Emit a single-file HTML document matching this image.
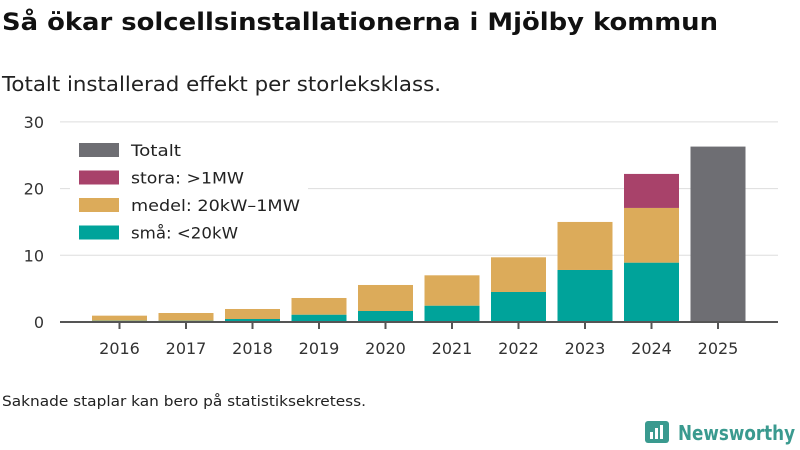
<!DOCTYPE html>
<html><head><meta charset="utf-8"><style>
body{margin:0;background:#fff;font-family:"DejaVu Sans","Liberation Sans",sans-serif;}
#w{position:relative;width:800px;height:450px;overflow:hidden}
</style></head><body><div id="w">
<svg id="c" width="800" height="450">
<text x="2" y="30" font-size="24" font-weight="bold" fill="#111" textLength="716" lengthAdjust="spacingAndGlyphs">Så ökar solcellsinstallationerna i Mjölby kommun</text>
<text x="2" y="91" font-size="20" fill="#222" textLength="439" lengthAdjust="spacingAndGlyphs">Totalt installerad effekt per storleksklass.</text>
<text x="2" y="406" font-size="14" fill="#222" textLength="364" lengthAdjust="spacingAndGlyphs">Saknade staplar kan bero på statistiksekretess.</text>
<g>
<rect x="645" y="421" width="24" height="22" rx="3" fill="#3a9a8f"/>
<rect x="650" y="432" width="3" height="7" fill="#fff"/><rect x="655" y="428" width="3" height="11" fill="#fff"/><rect x="660" y="425" width="3" height="14" fill="#fff"/>
<text x="678" y="440" font-size="20" fill="#3a9a8f" font-weight="bold" textLength="117" lengthAdjust="spacingAndGlyphs">Newsworthy</text>
</g>
<g id="plot"></g>
</svg></div>
<script>
const years=["2016","2017","2018","2019","2020","2021","2022","2023","2024","2025"];
const sma=[0.2,0.2,0.45,1.1,1.65,2.45,4.5,7.8,8.9,0];
const medel=[0.75,1.15,1.5,2.5,3.9,4.55,5.2,7.2,8.2,0];
const stora=[0,0,0,0,0,0,0,0,5.1,0];
const totalt=[0,0,0,0,0,0,0,0,0,26.3];
const yTicks=[0,10,20,30];
const ns="http://www.w3.org/2000/svg";
const g=document.getElementById('plot');
const x0=60,x1=778,yb=322,pxPer=6.67,step=66.5,first=119.5,bw=55;
const Y=v=>yb-v*pxPer, X=i=>first+i*step;
function el(t,a){const e=document.createElementNS(ns,t);for(const k in a)e.setAttribute(k,a[k]);g.appendChild(e);return e;}
yTicks.forEach(t=>{
 if(t>0){const l=el('line',{x1:x0,x2:x1,y1:Y(t),y2:Y(t),stroke:'#ddd','stroke-width':1});
 
 }
 const tx=el('text',{x:44,y:Y(t)+6,'font-size':16,fill:'#333','text-anchor':'end'});tx.textContent=t;
 
 
});
const series=[[sma,'#00a39a','small'],[medel,'#dcab5a','medel'],[stora,'#a8426a','stora'],[totalt,'#6e6e73','totalt']];
years.forEach((yr,i)=>{
 let acc=0;
 series.forEach(([arr,col,nm])=>{const v=arr[i];if(v>0){const r=el('rect',{x:X(i)-bw/2,y:Y(acc+v),width:bw,height:v*pxPer,fill:col});
 
 }acc+=v;});
 const tk=el('line',{x1:X(i),x2:X(i),y1:yb,y2:yb+7,stroke:'#555','stroke-width':2});
 
 
 const tx=el('text',{x:X(i),y:354,'font-size':16,fill:'#333','text-anchor':'middle'});tx.textContent=yr;
 
 
});
const ax=el('line',{x1:x0,x2:x1,y1:yb,y2:yb,stroke:'#555','stroke-width':2});


const bg=el('rect',{x:70,y:136,width:238,height:114,fill:'#fff'});


const leg=[['Totalt','#6e6e73',50],['stora: >1MW','#a8426a',113],['medel: 20kW–1MW','#dcab5a',169],['små: <20kW','#00a39a',107]];
leg.forEach(([t,c,w],i)=>{
 const yy=143+i*27.5;
 const r=el('rect',{x:79,y:yy,width:40,height:14,fill:c});
 
 
 const tx=el('text',{x:131,y:yy+13,'font-size':16,fill:'#222',textLength:w,lengthAdjust:'spacingAndGlyphs'});tx.textContent=t;
 
 
});
</script></body></html>
